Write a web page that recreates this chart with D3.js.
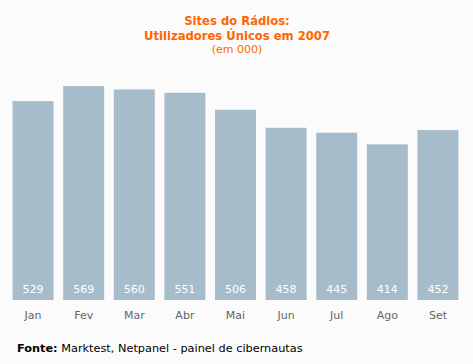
<!DOCTYPE html>
<html>
<head>
<meta charset="utf-8">
<script src="https://cdn.jsdelivr.net/npm/d3@7"></script>
<style>
  body { margin: 0; background: #fbfbfb; }
  svg { display: block; font-family: "DejaVu Sans", Verdana, sans-serif; }
</style>
</head>
<body>
<div id="chart"></div>
<script>
var months = ["Jan", "Fev", "Mar", "Abr", "Mai", "Jun", "Jul", "Ago", "Set"];
var visitors = [529, 569, 560, 551, 506, 458, 445, 414, 452];

var width = 473, height = 364;
var base = 300;

var svg = d3.select("#chart").append("svg")
  .attr("width", width)
  .attr("height", height);

svg.append("rect")
  .attr("width", width)
  .attr("height", height)
  .attr("fill", "#fbfbfb");

var x = d3.scaleBand()
  .domain(months)
  .range([8, 463])
  .paddingInner(0.19)
  .paddingOuter(0.09);

var y = d3.scaleLinear()
  .domain([0, 600])
  .range([base, base - 600 * 0.376]);

// bars
svg.selectAll(".bar")
  .data(visitors)
  .enter()
  .append("rect")
  .attr("class", "bar")
  .attr("x", function(d, i) { return x(months[i]); })
  .attr("y", function(d) { return y(d); })
  .attr("width", x.bandwidth())
  .attr("height", function(d) { return y(0) - y(d); })
  .attr("fill", "#a7bccb");

// values inside bars
svg.selectAll(".val")
  .data(visitors)
  .enter()
  .append("text")
  .attr("class", "val")
  .attr("x", function(d, i) { return x(months[i]) + x.bandwidth() / 2; })
  .attr("y", base - 7)
  .attr("text-anchor", "middle")
  .attr("fill", "#fff")
  .style("font-size", "11px")
  .text(function(d) { return d; });

// month labels
var xAxis = svg.append("g")
  .attr("transform", "translate(0," + base + ")")
  .call(d3.axisBottom(x).tickSize(0).tickPadding(11));
xAxis.select(".domain").remove();
xAxis.selectAll("text")
  .attr("fill", "#666")
  .style("font-size", "11px")
  .style("font-family", "DejaVu Sans, Verdana, sans-serif");

// titles
svg.append("text")
  .text("Sites do Rádios:")
  .attr("x", 237).attr("y", 25)
  .attr("text-anchor", "middle")
  .attr("fill", "#ff6600")
  .style("font-size", "11.6px")
  .style("font-weight", "bold");

svg.append("text")
  .text("Utilizadores Únicos em 2007")
  .attr("x", 237).attr("y", 40)
  .attr("text-anchor", "middle")
  .attr("fill", "#ff6600")
  .style("font-size", "11.6px")
  .style("font-weight", "bold");

svg.append("text")
  .text("(em 000)")
  .attr("x", 237).attr("y", 53)
  .attr("text-anchor", "middle")
  .attr("fill", "#ff6600")
  .style("font-size", "11px");

// source
var src = svg.append("text")
  .attr("x", 17).attr("y", 352)
  .attr("fill", "#000")
  .style("font-size", "11.3px");
src.append("tspan").style("font-weight", "bold").text("Fonte:");
src.append("tspan").text(" Marktest, Netpanel - painel de cibernautas");
</script>
</body>
</html>
